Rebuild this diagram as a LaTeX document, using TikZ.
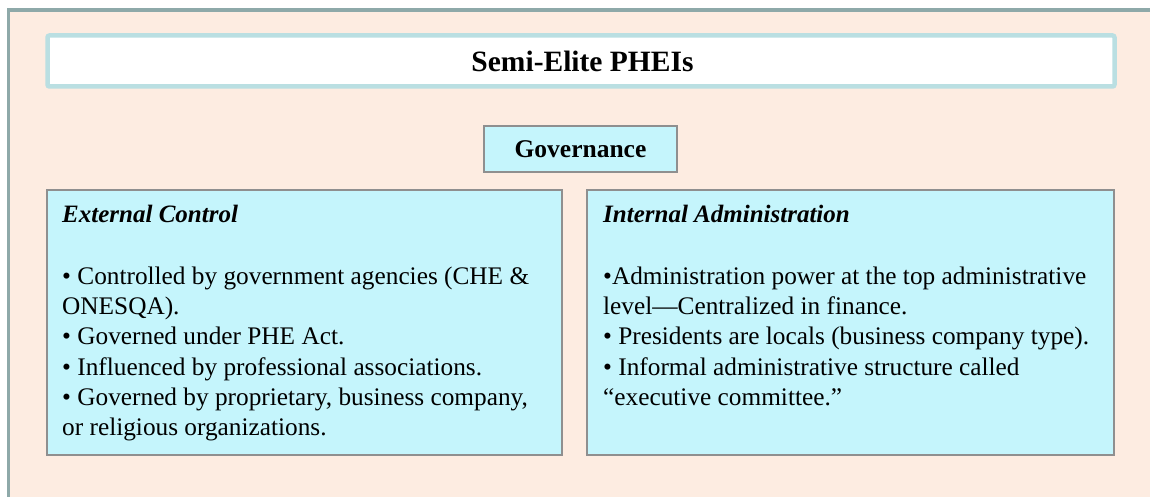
\documentclass[tikz,border=0pt]{standalone}
\usepackage{fontspec}
\setmainfont{Liberation Serif}
\definecolor{pagebg}{HTML}{FDECE1}
\definecolor{framecol}{HTML}{8EA9A9}
\definecolor{titleline}{HTML}{BADFE2}
\definecolor{boxfill}{HTML}{C5F5FC}
\definecolor{boxline}{HTML}{8F8F8F}
\tikzset{
  govbox/.style={draw=boxline, line width=1.6pt, fill=boxfill},
  headtxt/.style={font=\fontsize{25}{30}\selectfont\bfseries\itshape, inner sep=0pt, anchor=base west},
  itemtxt/.style={font=\fontsize{25.3}{30.3}\selectfont, inner sep=0pt, anchor=north west, align=left}
}
\begin{document}
\begin{tikzpicture}[x=1pt, y=-1pt]
\useasboundingbox (0,0) rectangle (1150,497);
\draw[line width=3.6pt, draw=framecol, fill=pagebg] (8.5,10) rectangle (1160,498.5);
\draw[line width=4.5pt, draw=titleline, fill=white, rounded corners=2pt] (47.5,35.5) rectangle (1114.5,86.5);
\node[font=\fontsize{29.5}{32}\selectfont\bfseries, inner sep=0pt, anchor=base] (title) at (582.5,72) {Semi-Elite PHEIs};
\draw[govbox] (484,126) rectangle (677,172);
\node[font=\fontsize{25.5}{30}\selectfont\bfseries, inner sep=0pt, anchor=base] (gov) at (580.5,158) {Governance};
\draw[govbox] (47,190) rectangle (562,455);
\draw[govbox] (587,190) rectangle (1114,455);
\node[headtxt] (ext) at (62,222) {External Control};
\node[headtxt] (int) at (603,222) {Internal Administration};
\node[itemtxt] (extitems) at (62,266.5) {• Controlled by government agencies (CHE \&\\ONESQA).\\• Governed under PHE Act.\\• Influenced by professional associations.\\• Governed by proprietary, business company,\\or religious organizations.};
\node[itemtxt] (intitems) at (603,266.5) {•Administration power at the top administrative\\level—Centralized in finance.\\• Presidents are locals (business company type).\\• Informal administrative structure called\\“executive committee.”};
\end{tikzpicture}
\end{document}
